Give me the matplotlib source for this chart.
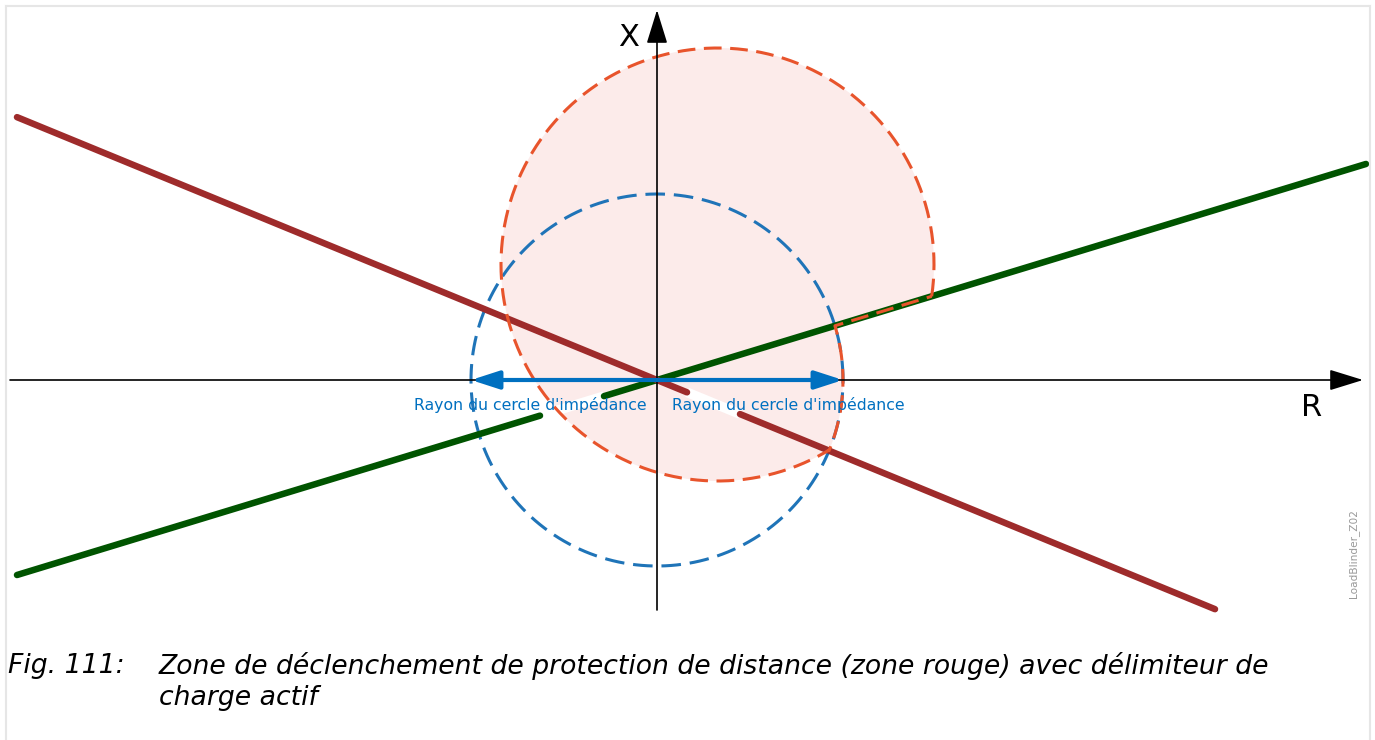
import numpy as np
import matplotlib
matplotlib.use('Agg')
import matplotlib.pyplot as plt
from matplotlib.patches import FancyArrowPatch, Polygon

# #/#/# Data (R, X in drawing units, origin at the axes crossing) #/#/#
green_seg1_R = [-640, -117]
green_seg2_R = [-53, 709]
green_slope = 0.3047

red_seg1_R = [-640, 30]
red_seg2_R = [83, 558]
red_slope = -0.4107

blue_radius = 186.0
zone_center = [60.5, 115.5]
zone_radius = 216.5

axis_R = [-647, 706]
axis_X = [-230, 370]

radius_label = "Rayon du cercle d'impédance"
caption_num = "Fig. 111:"
caption_lines = ["Zone de déclenchement de protection de distance (zone rouge) avec délimiteur de",
                 "charge actif"]
tag_label = "LoadBlinder_Z02"

# colours
c_red = '#9E2B2B'
c_green = '#005400'
c_blue_circ = '#1F74B8'
c_blue = '#0070C0'
c_orange = '#E8542C'
c_pink = '#FCEBEA'

W, H = 1375, 740
ox, oy = 657, 380

fig = plt.figure(figsize=(W / 100, H / 100), dpi=100)
ax = fig.add_axes([0, 0, 1, 1])
ax.set_xlim(-ox, W - ox)
ax.set_ylim(oy - H, oy)
ax.axis('off')


def px(x, y):
    # figure fraction from pixel position
    return x / W, 1 - y / H


def circle_line_hit(cx, cy, r, k):
    # larger-x intersection of circle with line X = k R through origin
    a = 1 + k * k
    b = -2 * (cx + k * cy)
    c = cx * cx + cy * cy - r * r
    x = (-b + np.sqrt(b * b - 4 * a * c)) / (2 * a)
    return x, k * x


# --- red zone: orange circle cut by the load blinder wedge ---
cx, cy = zone_center
A = circle_line_hit(cx, cy, zone_radius, green_slope)
B = circle_line_hit(cx, cy, zone_radius, red_slope)
ta = np.arctan2(A[1] - cy, A[0] - cx)
tb = np.arctan2(B[1] - cy, B[0] - cx) + 2 * np.pi
t = np.linspace(ta, tb, 300)
arc_o = np.column_stack([cx + zone_radius * np.cos(t), cy + zone_radius * np.sin(t)])
tb_blue = np.arctan2(red_slope, 1)
tc_blue = np.arctan2(green_slope, 1)
t2 = np.linspace(tb_blue, tc_blue, 60)
arc_b = np.column_stack([blue_radius * np.cos(t2), blue_radius * np.sin(t2)])
zone = np.vstack([arc_o, arc_b, [A]])

ax.add_patch(Polygon(zone, closed=True, facecolor=c_pink, edgecolor='none', zorder=1))

# white bands in the line gaps
gx = np.array([green_seg1_R[1], green_seg2_R[0]])
ax.plot(gx, green_slope * gx, color='white', lw=7, solid_capstyle='butt', zorder=2)
rx = np.array([red_seg1_R[1], red_seg2_R[0]])
ax.plot(rx, red_slope * rx, color='white', lw=7, solid_capstyle='butt', zorder=2)

# blue impedance circle
tt = np.linspace(0, 2 * np.pi, 400)
ax.plot(blue_radius * np.cos(tt), blue_radius * np.sin(tt), color=c_blue_circ, lw=2.2,
        linestyle=(0, (6.4, 2.9)), zorder=3)

# load blinder lines
for seg in (green_seg1_R, green_seg2_R):
    s = np.array(seg)
    ax.plot(s, green_slope * s, color=c_green, lw=4.7, solid_capstyle='round', zorder=3)
for seg in (red_seg1_R, red_seg2_R):
    s = np.array(seg)
    ax.plot(s, red_slope * s, color=c_red, lw=4.7, solid_capstyle='round', zorder=3)

# zone boundary
ax.plot(np.append(zone[:, 0], zone[0, 0]), np.append(zone[:, 1], zone[0, 1]),
        color=c_orange, lw=2.2, linestyle=(0, (5.8, 2.8)), zorder=4)

# axes with arrow heads
ax.add_patch(FancyArrowPatch((axis_R[0], 0), (axis_R[1], 0), arrowstyle='-|>,head_length=21,head_width=6.5',
                             mutation_scale=1, color='black', lw=1.2, shrinkA=0, shrinkB=0, zorder=5))
ax.add_patch(FancyArrowPatch((0, axis_X[0]), (0, axis_X[1]), arrowstyle='-|>,head_length=21,head_width=6.5',
                             mutation_scale=1, color='black', lw=1.2, shrinkA=0, shrinkB=0, zorder=5))

# radius double arrow
ax.add_patch(FancyArrowPatch((-blue_radius, 0), (blue_radius, 0),
                             arrowstyle='<|-|>,head_length=17,head_width=5.5',
                             mutation_scale=1, color=c_blue, lw=3, shrinkA=0, shrinkB=0, zorder=6))

fig.text(*px(530, 405), radius_label, color=c_blue, fontsize=11.3, ha='center', va='center')
fig.text(*px(788, 405), radius_label, color=c_blue, fontsize=11.3, ha='center', va='center')

fig.text(*px(629, 38), 'X', fontsize=22, ha='center', va='center')
fig.text(*px(1312, 408), 'R', fontsize=22, ha='center', va='center')

fig.text(*px(1354, 554), tag_label, fontsize=7.6, color='#999999', rotation=90, ha='center', va='center')

# caption
fig.text(*px(8, 666), caption_num, fontsize=19.2, style='italic', ha='left', va='center')
fig.text(*px(159, 666), caption_lines[0], fontsize=19.2, style='italic', ha='left', va='center')
fig.text(*px(159, 698), caption_lines[1], fontsize=19.2, style='italic', ha='left', va='center')

# page frame
frame = dict(color='#E6E6E6', lw=1.5, transform=fig.transFigure)
fig.add_artist(plt.Line2D([6 / W, 6 / W], [1 - 6 / H, 0], **frame))
fig.add_artist(plt.Line2D([6 / W, 1370 / W], [1 - 6 / H, 1 - 6 / H], **frame))
fig.add_artist(plt.Line2D([1370 / W, 1370 / W], [1 - 6 / H, 0], **frame))

fig.savefig('out.png', dpi=100)
